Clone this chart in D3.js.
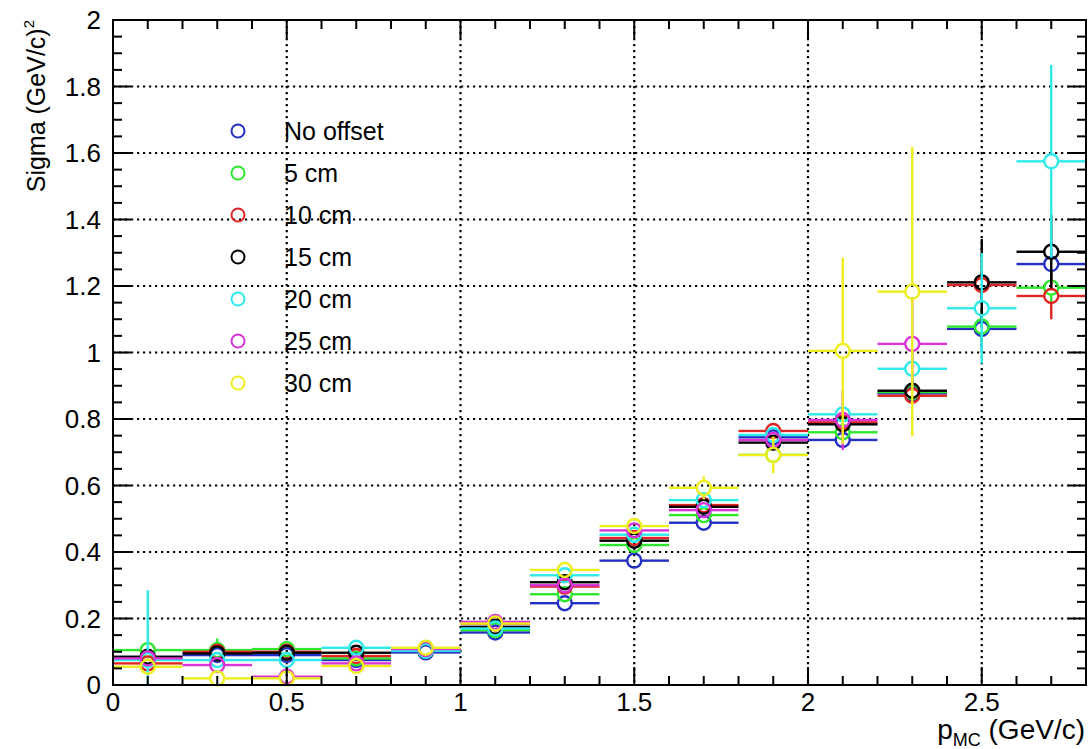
<!DOCTYPE html>
<html>
<head>
<meta charset="utf-8">
<script src="https://cdn.jsdelivr.net/npm/d3@7"></script>
<style>
  html, body { margin: 0; padding: 0; background: #fff; }
  svg { display: block; font-family: "Liberation Sans", Arial, sans-serif; }
</style>
</head>
<body>
<svg id="chart" width="1090" height="749"></svg>
<script>
// Momentum bin centres (GeV/c); each bin is 0.2 wide
const binCenters = [0.1, 0.3, 0.5, 0.7, 0.9, 1.1, 1.3, 1.5, 1.7, 1.9, 2.1, 2.3, 2.5, 2.7];
const binHalfWidth = 0.1;

const seriesNames = ["No offset", "5 cm", "10 cm", "15 cm", "20 cm", "25 cm", "30 cm"];
const seriesColors = ["#2430c4", "#2ee82e", "#e02424", "#000000", "#2eeaea", "#d834d8", "#eeee1e"];

// Sigma values per offset
const sigmaNoOffset = [0.080, 0.090, 0.090, 0.075, 0.098, 0.158, 0.246, 0.374, 0.488, 0.745, 0.737, 0.877, 1.071, 1.266];
const sigma5cm      = [0.105, 0.105, 0.108, 0.080, 0.103, 0.165, 0.273, 0.421, 0.511, 0.692, 0.760, 0.881, 1.078, 1.195];
const sigma10cm     = [0.065, 0.100, 0.100, 0.087, 0.107, 0.185, 0.296, 0.442, 0.541, 0.764, 0.790, 0.870, 1.203, 1.170];
const sigma15cm     = [0.085, 0.095, 0.097, 0.097, 0.105, 0.175, 0.309, 0.434, 0.536, 0.729, 0.784, 0.885, 1.211, 1.303];
const sigma20cm     = [0.075, 0.075, 0.075, 0.112, 0.103, 0.170, 0.330, 0.452, 0.556, 0.752, 0.814, 0.951, 1.133, 1.575];
const sigma25cm     = [0.080, 0.060, 0.025, 0.065, 0.108, 0.190, 0.300, 0.465, 0.526, 0.737, 0.797, 1.026, null, null];
const sigma30cm     = [0.055, 0.020, 0.020, 0.057, 0.112, 0.185, 0.346, 0.478, 0.593, 0.692, 1.005, 1.183, null, null];

// Uncertainties on sigma
const errNoOffset = [0.010, 0.010, 0.010, 0.010, 0.005, 0.005, 0.006, 0.007, 0.008, 0.012, 0.015, 0.020, 0.060, 0.050];
const err5cm      = [0.020, 0.035, 0.015, 0.010, 0.005, 0.005, 0.006, 0.007, 0.008, 0.012, 0.015, 0.020, 0.050, 0.050];
const err10cm     = [0.020, 0.015, 0.015, 0.010, 0.005, 0.005, 0.006, 0.007, 0.008, 0.012, 0.015, 0.020, 0.040, 0.070];
const err15cm     = [0.020, 0.015, 0.015, 0.010, 0.005, 0.005, 0.006, 0.007, 0.008, 0.012, 0.015, 0.030, 0.130, 0.110];
const err20cm     = [0.210, 0.020, 0.015, 0.010, 0.005, 0.005, 0.006, 0.007, 0.008, 0.012, 0.020, 0.050, 0.166, 0.290];
const err25cm     = [0.020, 0.020, 0.015, 0.010, 0.005, 0.005, 0.006, 0.007, 0.008, 0.012, 0.090, 0.140, null, null];
const err30cm     = [0.020, 0.015, 0.015, 0.010, 0.005, 0.005, 0.006, 0.010, 0.035, 0.055, 0.280, 0.435, null, null];

const xTickLabels = ["0", "0.5", "1", "1.5", "2", "2.5"];
const yTickLabels = ["0", "0.2", "0.4", "0.6", "0.8", "1", "1.2", "1.4", "1.6", "1.8", "2"];

const allValues = [sigmaNoOffset, sigma5cm, sigma10cm, sigma15cm, sigma20cm, sigma25cm, sigma30cm];
const allErrors = [errNoOffset, err5cm, err10cm, err15cm, err20cm, err25cm, err30cm];

// ---- layout ----
const plot = { left: 113, right: 1086, top: 20, bottom: 685 };
const svg = d3.select("#chart");

const x = d3.scaleLinear().domain([0, 2.8]).range([plot.left, plot.right]);
const y = d3.scaleLinear().domain([0, 2]).range([plot.bottom, plot.top]);

// dotted grid at the major ticks
const grid = svg.append("g").attr("stroke", "#000").attr("stroke-width", 2.2)
  .attr("stroke-dasharray", "2.2,3.8");
xTickLabels.map(Number).filter(v => v > 0).forEach(v => {
  grid.append("line").attr("x1", x(v)).attr("x2", x(v)).attr("y1", plot.top).attr("y2", plot.bottom);
});
yTickLabels.map(Number).filter(v => v > 0 && v < 2).forEach(v => {
  grid.append("line").attr("x1", plot.left).attr("x2", plot.right).attr("y1", y(v)).attr("y2", y(v));
});

// ---- data points with error bars ----
const R = 7;
const marks = svg.append("g").attr("fill", "none").attr("stroke-width", 2.4);
allValues.forEach((vals, si) => {
  const col = seriesColors[si];
  const g = marks.append("g").attr("stroke", col);
  const pts = binCenters.map((c, i) => ({ c, v: vals[i], e: allErrors[si][i] }))
    .filter(d => d.v !== null);
  pts.forEach(d => {
    const cx = x(d.c), cy = y(d.v);
    const xl = x(d.c - binHalfWidth), xr = x(d.c + binHalfWidth);
    g.append("line").attr("x1", xl).attr("x2", cx - R).attr("y1", cy).attr("y2", cy);
    g.append("line").attr("x1", cx + R).attr("x2", xr).attr("y1", cy).attr("y2", cy);
    const yt = y(Math.min(2, d.v + d.e)), yb = y(Math.max(0, d.v - d.e));
    if (yt < cy - R) g.append("line").attr("x1", cx).attr("x2", cx).attr("y1", yt).attr("y2", cy - R);
    if (yb > cy + R) g.append("line").attr("x1", cx).attr("x2", cx).attr("y1", cy + R).attr("y2", yb);
    g.append("circle").attr("cx", cx).attr("cy", cy).attr("r", R);
  });
});

// ---- frame and ticks ----
const axes = svg.append("g").attr("stroke", "#000").attr("stroke-width", 2);
axes.append("rect").attr("x", plot.left).attr("y", plot.top)
  .attr("width", plot.right - plot.left).attr("height", plot.bottom - plot.top).attr("fill", "none");

// x ticks: major every 0.5, minor every 0.1 (bottom and top)
d3.range(0, 28.01, 1).forEach(k => {
  const v = k / 10;
  const major = k % 5 === 0;
  const len = major ? 18 : 9;
  axes.append("line").attr("x1", x(v)).attr("x2", x(v)).attr("y1", plot.bottom).attr("y2", plot.bottom - len);
  axes.append("line").attr("x1", x(v)).attr("x2", x(v)).attr("y1", plot.top).attr("y2", plot.top + len);
});
// y ticks: major every 0.2, minor every 0.05 (left and right)
d3.range(0, 40.01, 1).forEach(k => {
  const v = k / 20;
  const major = k % 4 === 0;
  const len = major ? 18 : 9;
  axes.append("line").attr("y1", y(v)).attr("y2", y(v)).attr("x1", plot.left).attr("x2", plot.left + len);
  axes.append("line").attr("y1", y(v)).attr("y2", y(v)).attr("x1", plot.right).attr("x2", plot.right - len);
});

// tick labels
const labels = svg.append("g").attr("fill", "#000").attr("font-size", 26);
xTickLabels.forEach(t => {
  labels.append("text").attr("x", x(+t)).attr("y", plot.bottom + 26)
    .attr("text-anchor", "middle").text(t);
});
yTickLabels.forEach(t => {
  labels.append("text").attr("x", plot.left - 12).attr("y", y(+t) + 9)
    .attr("text-anchor", "end").text(t);
});

// axis titles
const yTitle = svg.append("text").attr("font-size", 25).attr("fill", "#000")
  .attr("text-anchor", "end")
  .attr("transform", `translate(45, ${plot.top}) rotate(-90)`);
yTitle.append("tspan").text("Sigma (GeV/c)");
yTitle.append("tspan").attr("font-size", 15).attr("dy", -11).text("2");

const xTitle = svg.append("text").attr("font-size", 28).attr("fill", "#000")
  .attr("text-anchor", "end").attr("x", plot.right - 1).attr("y", 739);
xTitle.append("tspan").text("p");
xTitle.append("tspan").attr("font-size", 18).attr("dy", 7).text("MC");
xTitle.append("tspan").attr("dy", -7).text(" (GeV/c)");

// ---- legend ----
const legend = svg.append("g");
seriesNames.forEach((name, i) => {
  const ly = 131 + i * 42;
  legend.append("circle").attr("cx", 238).attr("cy", ly).attr("r", 6.5)
    .attr("fill", "none").attr("stroke", seriesColors[i]).attr("stroke-width", 2);
  legend.append("text").attr("x", 284).attr("y", ly + 9).attr("font-size", 25)
    .attr("fill", "#000").text(name);
});
</script>
</body>
</html>
